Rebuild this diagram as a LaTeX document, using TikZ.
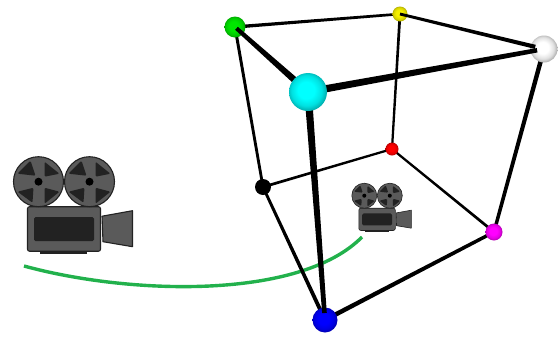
\documentclass[tikz,border=0pt]{standalone}
\usetikzlibrary{calc}
\pgfdeclarelayer{back}
\pgfdeclarelayer{fg}
\pgfsetlayers{back,main,fg}
\definecolor{camfill}{HTML}{5A5A5A}
\definecolor{camdark}{HTML}{222222}
\definecolor{curvegreen}{HTML}{22B14C}
\newcommand{\taper}[4]{%
  \fill[black] ($(#1)!#3/2!90:(#2)$) -- ($(#1)!#3/2!-90:(#2)$) -- ($(#2)!#4/2!90:(#1)$) -- ($(#2)!#4/2!-90:(#1)$) -- cycle;}
\newcommand{\defsphere}[2]{%
  \pgfdeclareradialshading{#1}{\pgfpoint{-3bp}{3bp}}{%
    color(0bp)=(#2);
    color(11bp)=(#2);
    color(20bp)=(#2!88!black);
    color(28bp)=(#2!62!black);
    color(50bp)=(#2!62!black)}}
\definecolor{cgreen}{HTML}{00E600}
\definecolor{cyellow}{HTML}{F5F000}
\definecolor{cwhite}{HTML}{FFFFFF}
\definecolor{cred}{HTML}{FF0000}
\definecolor{cblack}{HTML}{000000}
\definecolor{cmagenta}{HTML}{FF00FF}
\definecolor{cblue}{HTML}{0000FF}
\definecolor{ccyan}{HTML}{00FFFF}
\defsphere{sgreen}{cgreen}
\defsphere{syellow}{cyellow}
\defsphere{swhite}{cwhite}
\defsphere{sred}{cred}
\defsphere{sblack}{cblack}
\defsphere{smagenta}{cmagenta}
\defsphere{sblue}{cblue}
\defsphere{scyan}{ccyan}
\newcommand{\camlw}{1.1pt}
\tikzset{
  sphere/.style args={#1/#2}{circle,inner sep=0pt,minimum size=#2pt,draw=none,shading=#1},
  camline/.style={draw=camdark,line width=\camlw,fill=camfill,line join=round},
  wedge/.style={fill=camdark,rounded corners=1.2pt},
  reel/.pic={
    \path[camline] (0,0) circle (25);
    \path[wedge] (-21,-8) -- (-8,-21) -- (-3,-6) -- cycle;
    \path[wedge] (6,-20) -- (21,-8) -- (6,-5) -- cycle;
    \path[wedge] (-21,10) -- (-5,6) -- (-6,21) -- cycle;
    \path[wedge] (6,6) -- (21,10) -- (6,22) -- cycle;
    \fill[black] (0,0) circle (4);
  },
  camera/.pic={
    \fill[camdark] (1.5,69) rectangle (48.5,72.5);
    \path[camline,rounded corners=2pt] (-11,25) rectangle (62,69.5);
    \fill[camdark,rounded corners=1.5pt] (-4.5,35.5) rectangle (55.5,59.5);
    \path[camline] (63.5,34.5) -- (94,29) -- (94,65) -- (64.5,60) -- cycle;
    \pic[transform shape] at (0,0) {reel};
    \pic[transform shape] at (51,0) {reel};
  }
}
\begin{document}
\begin{tikzpicture}[x=1pt,y=-1pt]
\useasboundingbox (0,0) rectangle (558,338);
% spheres
\node[sphere=sgreen/21] (green) at (235,27) {};
\node[sphere=syellow/15] (yellow) at (400,14) {};
\node[sphere=swhite/27] (white) at (544,49) {};
\node[sphere=sred/13] (red) at (392,149) {};
\node[sphere=sblack/16] (blackball) at (263,187) {};
\node[sphere=smagenta/17] (magenta) at (494,232) {};
\node[sphere=sblue/25] (blue) at (325,320) {};
\begin{pgfonlayer}{fg}
\node[sphere=scyan/38] (cyan) at (308,92) {};
\end{pgfonlayer}
\coordinate (curveA) at (24,266);
\coordinate (curveB) at (362,237);
\coordinate (endGreen) at ($(green.center)!2pt!(cyan.center)$);
\coordinate (endWhite) at ($(white.center)!7pt!(cyan.center)$);
\coordinate (endBlue) at ($(blue.center)!7pt!(cyan.center)$);
\coordinate (endYW) at ($(white.center)!9pt!(yellow.center)$);
% back layer
\begin{pgfonlayer}{back}
\draw[curvegreen,line width=3.4pt] (curveA) .. controls (130,295) and (300,300) .. (curveB);
\taper{green.center}{yellow.center}{3.4pt}{2.6pt}
\taper{yellow.center}{red.center}{2.8pt}{2.2pt}
\taper{green.center}{blackball.center}{3pt}{2.8pt}
\taper{blackball.center}{red.center}{2.8pt}{2.2pt}
\taper{red.center}{magenta.center}{2.2pt}{2.8pt}
\taper{blackball.center}{blue.center}{2.8pt}{4pt}
\taper{white.center}{magenta.center}{4.6pt}{3.4pt}
\taper{magenta.center}{blue.center}{3.4pt}{4.6pt}
\end{pgfonlayer}
% front edges
\taper{yellow.center}{endYW}{2.8pt}{4.2pt}
\taper{cyan.center}{endGreen}{7pt}{4pt}
\taper{cyan.center}{endWhite}{7.5pt}{4.4pt}
\taper{cyan.center}{endBlue}{7.5pt}{4.6pt}
% cameras
\begin{pgfonlayer}{fg}
\pic at (38.5,181.7) {camera};
\begin{scope}[shift={(364.3,195.7)},scale=0.5]
\renewcommand{\camlw}{0.6pt}
\pic[transform shape] at (0,0) {camera};
\end{scope}
\end{pgfonlayer}
\end{tikzpicture}
\end{document}
